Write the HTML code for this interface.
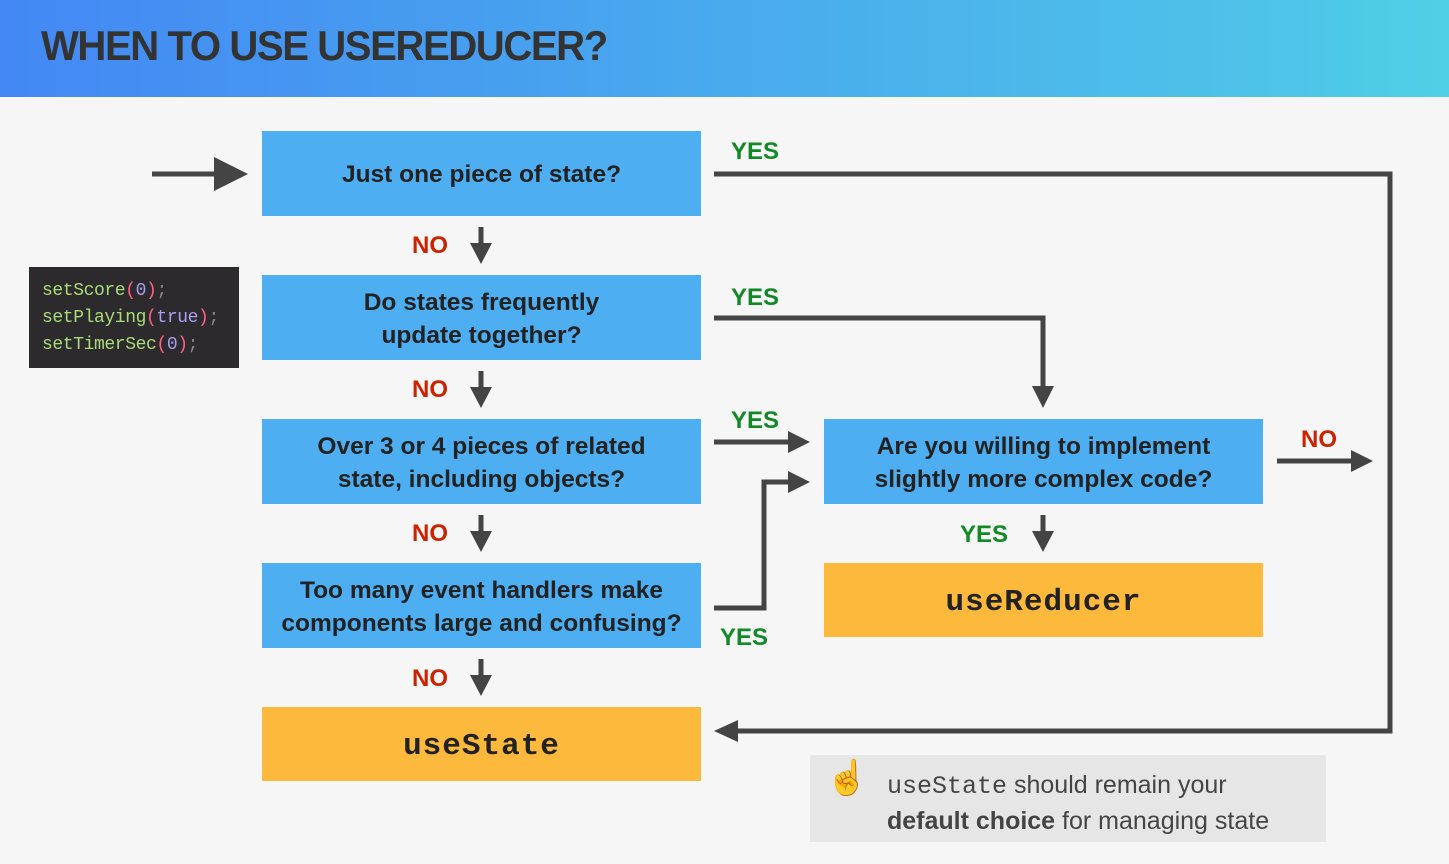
<!DOCTYPE html>
<html><head><meta charset="utf-8"><style>
*{margin:0;padding:0;box-sizing:border-box}
body{width:1449px;height:864px;background:#f6f6f6;position:relative;overflow:hidden;font-family:"Liberation Sans",sans-serif}
.hdr{position:absolute;left:0;top:0;width:1449px;height:97px;background:linear-gradient(90deg,#4388f4,#4ec5e8 90%,#50d0e6)}
.hdr h1{position:absolute;left:41px;top:22px;font-size:42px;color:#333;font-weight:bold;letter-spacing:-1.5px;transform:scaleX(0.955);transform-origin:left}
.b{position:absolute;background:#4daef2;color:#222;font-weight:bold;font-size:24.5px;display:flex;align-items:center;justify-content:center;text-align:center;line-height:33px;padding-top:2px}
.o{position:absolute;background:#fdb93b;color:#222;font-weight:bold;font-size:31px;font-family:"Liberation Mono",monospace;display:flex;align-items:center;justify-content:center;letter-spacing:1px;padding-top:5px}
.l{position:absolute;font-weight:bold;font-size:24px;transform:translate(-50%,-50%)}
.y{color:#118a26}.n{color:#cc2200}
.code{position:absolute;left:29px;top:267px;width:210px;height:101px;background:#2d2a2e;font-family:"Liberation Mono",monospace;font-size:18px;line-height:27px;padding:11px 0 0 13px;color:#a9dc76;letter-spacing:-0.4px}
.p{color:#ff6188}.v{color:#ab9df2}.s{color:#888}
.note{position:absolute;left:810px;top:755px;width:516px;height:87px;background:#e6e6e6;color:#444;font-size:25px;line-height:34px;padding:13px 0 0 77px}
</style></head><body>
<div class="hdr"><h1>WHEN TO USE USEREDUCER?</h1></div>
<svg style="position:absolute;left:0;top:0" width="1449" height="864">
<g stroke="#444" stroke-width="5" fill="none">
<line x1="152" y1="174" x2="222" y2="174"/>
<polyline points="714,174 1390,174 1390,731 736,731"/>
<polyline points="714,318 1043,318 1043,390"/>
<line x1="714" y1="442" x2="792" y2="442"/>
<polyline points="714,608 764,608 764,482 792,482"/>
<line x1="1277" y1="461" x2="1355" y2="461"/>
<line x1="481" y1="227" x2="481" y2="248"/>
<line x1="481" y1="371" x2="481" y2="392"/>
<line x1="481" y1="515" x2="481" y2="536"/>
<line x1="481" y1="659" x2="481" y2="680"/>
<line x1="1043" y1="515" x2="1043" y2="536"/>
</g>
<g fill="#444">
<polygon points="214,157 248,174 214,191"/>
<polygon points="714,731 738,720 738,742"/>
<polygon points="1032,386 1054,386 1043,408"/>
<polygon points="788,431 810,442 788,453"/>
<polygon points="788,471 810,482 788,493"/>
<polygon points="1351,450 1373,461 1351,472"/>
<polygon points="470,243 492,243 481,264"/>
<polygon points="470,387 492,387 481,408"/>
<polygon points="470,531 492,531 481,552"/>
<polygon points="470,675 492,675 481,696"/>
<polygon points="1032,531 1054,531 1043,552"/>
</g></svg>
<div class="b" style="left:262px;top:131px;width:439px;height:85px">Just one piece of state?</div>
<div class="b" style="left:262px;top:275px;width:439px;height:85px">Do states frequently<br>update together?</div>
<div class="b" style="left:262px;top:419px;width:439px;height:85px">Over 3 or 4 pieces of related<br>state, including objects?</div>
<div class="b" style="left:262px;top:563px;width:439px;height:85px">Too many event handlers make<br>components large and confusing?</div>
<div class="o" style="left:262px;top:707px;width:439px;height:74px">useState</div>
<div class="b" style="left:824px;top:419px;width:439px;height:85px">Are you willing to implement<br>slightly more complex code?</div>
<div class="o" style="left:824px;top:563px;width:439px;height:74px">useReducer</div>
<div class="l n" style="left:430px;top:246px">NO</div>
<div class="l n" style="left:430px;top:390px">NO</div>
<div class="l n" style="left:430px;top:534px">NO</div>
<div class="l n" style="left:430px;top:679px">NO</div>
<div class="l n" style="left:1319px;top:440px">NO</div>
<div class="l y" style="left:755px;top:152px">YES</div>
<div class="l y" style="left:755px;top:298px">YES</div>
<div class="l y" style="left:755px;top:421px">YES</div>
<div class="l y" style="left:744px;top:638px">YES</div>
<div class="l y" style="left:984px;top:535px">YES</div>
<div class="code">setScore<span class="p">(</span><span class="v">0</span><span class="p">)</span><span class="s">;</span><br>setPlaying<span class="p">(</span><span class="v">true</span><span class="p">)</span><span class="s">;</span><br>setTimerSec<span class="p">(</span><span class="v">0</span><span class="p">)</span><span class="s">;</span></div>
<div class="note"><span style="position:absolute;left:16px;top:6px;font-size:34px">☝️</span><span style="font-family:'Liberation Mono',monospace">useState</span> should remain your<br><b>default choice</b> for managing state</div>
</body></html>
